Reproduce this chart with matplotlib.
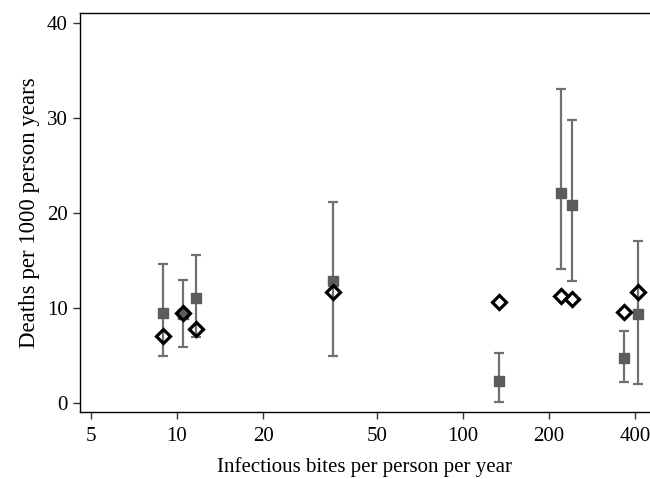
import numpy as np
import matplotlib.pyplot as plt
from matplotlib.ticker import FixedLocator, NullLocator

plt.rcParams['font.family'] = ['Liberation Serif', 'DejaVu Serif']

# infectious bites per person per year (log x)
bites = [8.9, 10.46, 11.65, 35.0, 133.9, 220.5, 239.8, 366, 408]
# observed deaths per 1000 person years with 95% CI
observed = [9.46, 9.4, 11.04, 12.9, 2.35, 22.12, 20.85, 4.78, 9.42]
ci_low = [4.9, 5.94, 7.0, 4.99, 0.14, 14.1, 12.83, 2.18, 2.0]
ci_high = [14.66, 12.97, 15.6, 21.17, 5.3, 33.09, 29.82, 7.6, 17.06]
# predicted deaths
predicted = [7.07, 9.46, 7.8, 11.74, 10.62, 11.29, 10.97, 9.6, 11.64]

xticks = [5, 10, 20, 50, 100, 200, 400]
yticks = [0, 10, 20, 30, 40]

fig = plt.figure(figsize=(6.5, 4.79), dpi=100)
ax = fig.add_axes([0.123, 0.140, 0.877, 0.832])

obs = np.array(observed)
yerr = [obs - np.array(ci_low), np.array(ci_high) - obs]
ax.errorbar(bites, obs, yerr=yerr, fmt='s', color='#5c5c5c', ms=6.5,
            ecolor='#707070', elinewidth=1.6, capsize=3.4, capthick=1.6, zorder=2)
ax.plot(bites, predicted, 'D', mfc='none', mec='black', ms=7.2, mew=2.3, zorder=3)

ax.set_xscale('log')
ax.set_xlim(4.577, 450.4)
ax.set_ylim(-0.95, 41.05)
ax.xaxis.set_major_locator(FixedLocator(xticks))
ax.xaxis.set_minor_locator(NullLocator())
ax.set_xticklabels([str(t) for t in xticks])
ax.set_yticks(yticks)

ax.tick_params(axis='both', labelsize=15, length=5, width=1, color='#333333', pad=4)
ax.tick_params(axis='x', pad=6)
ax.spines['right'].set_visible(False)
for s in ['left', 'top', 'bottom']:
    ax.spines[s].set_linewidth(1)

ax.set_xlabel('Infectious bites per person per year', fontsize=15, labelpad=8)
ax.set_ylabel('Deaths per 1000 person years', fontsize=16.5, labelpad=5)

fig.savefig('out.png', dpi=100)
